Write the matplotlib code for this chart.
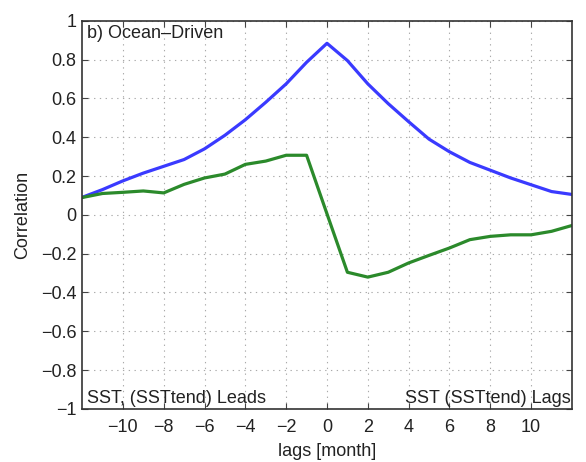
import numpy as np
import matplotlib
matplotlib.use('Agg')
import matplotlib.pyplot as plt

plt.rcParams['font.family'] = ['Liberation Sans', 'DejaVu Sans']

lags = list(range(-12, 13))
ocean = [0.09, 0.13, 0.175, 0.215, 0.25, 0.285, 0.34, 0.41, 0.49, 0.58, 0.675, 0.786, 0.884,
         0.795, 0.675, 0.573, 0.48, 0.39, 0.325, 0.27, 0.23, 0.19, 0.155, 0.12, 0.105]
tend = [0.089, 0.11, 0.116, 0.123, 0.113, 0.157, 0.19, 0.21, 0.26, 0.277, 0.307, 0.307, 0.005,
        -0.296, -0.321, -0.296, -0.248, -0.209, -0.171, -0.128, -0.111, -0.103, -0.103, -0.085, -0.055]

xticks = list(range(-10, 11, 2))
yticks = [-1, -0.8, -0.6, -0.4, -0.2, 0, 0.2, 0.4, 0.6, 0.8, 1]
ylabels = ['\u22121', '\u22120.8', '\u22120.6', '\u22120.4', '\u22120.2', '0',
           '0.2', '0.4', '0.6', '0.8', '1']
xlabels = [str(t).replace('-', '\u2212') for t in xticks]

fs = 13
tc = '#222222'

fig = plt.figure(figsize=(5.86, 4.62), dpi=100)
ax = fig.add_axes([0.140, 0.115, 0.836, 0.840])

ax.plot(lags, ocean, color='#3a3aff', lw=2.3)
ax.plot(lags, tend, color='#2b8a2b', lw=2.3)

ax.set_xlim(-12, 12)
ax.set_ylim(-1, 1)
ax.set_xticks(xticks)
ax.set_xticklabels(xlabels)
ax.set_yticks(yticks)
ax.set_yticklabels(ylabels)
ax.tick_params(direction='in', top=True, right=True, labelsize=fs, length=4,
               color='#444444', labelcolor=tc)
ax.tick_params(axis='x', pad=7)
ax.tick_params(axis='y', pad=4)
ax.grid(True, linestyle=(0, (1.2, 4)), color='#aaaaaa', lw=0.8)
for s in ax.spines.values():
    s.set_color('#333333')
    s.set_linewidth(1.2)

ax.set_xlabel('lags [month]', fontsize=fs, labelpad=5, color=tc)
ax.set_ylabel('Correlation', fontsize=fs, labelpad=7, color=tc)

ax.text(0.01, 0.99, 'b) Ocean\u2013Driven', transform=ax.transAxes, ha='left', va='top', fontsize=fs, color=tc)
ax.text(0.01, 0.006, 'SST, (SSTtend) Leads', transform=ax.transAxes, ha='left', va='bottom', fontsize=fs, color=tc)
ax.text(0.997, 0.006, 'SST (SSTtend) Lags', transform=ax.transAxes, ha='right', va='bottom', fontsize=fs, color=tc)

fig.savefig('out.png', dpi=100)
